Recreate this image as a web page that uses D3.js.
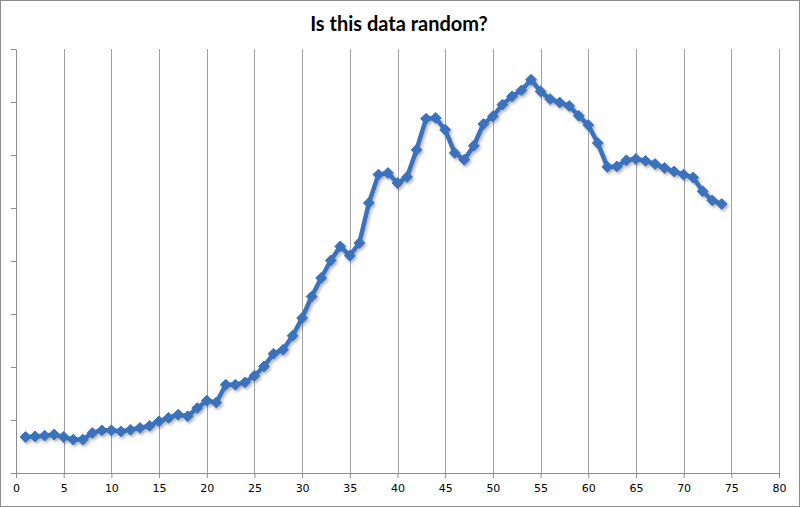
<!DOCTYPE html>
<html>
<head>
<meta charset="utf-8">
<script src="https://cdn.jsdelivr.net/npm/d3@7"></script>
<style>
  html, body { margin: 0; padding: 0; background: #fff; }
  svg { display: block; }
</style>
</head>
<body>
<svg id="chart"></svg>
<script>
var title = "Is this data random?";
var xValues = d3.range(1, 75);
var yValues = [
  13.6, 13.8, 14.1, 14.5, 13.6, 12.6, 12.6, 15.1, 16.1, 16.1,
  15.7, 16.3, 17.0, 17.8, 19.5, 20.8, 22.0, 21.4, 24.5, 27.3,
  26.6, 33.3, 33.3, 34.2, 36.7, 40.2, 45.0, 46.5, 51.8, 58.5,
  66.6, 73.6, 80.2, 85.5, 82.0, 86.8, 101.9, 112.6, 113.2, 109.4,
  111.7, 122.0, 133.7, 134.0, 129.5, 120.8, 118.2, 123.5, 131.7, 134.6,
  139.0, 142.1, 144.4, 148.4, 144.0, 141.1, 139.8, 138.5, 134.8, 131.3,
  124.5, 115.5, 115.7, 118.0, 118.5, 117.8, 116.6, 115.1, 113.8, 112.6,
  111.5, 106.3, 102.9, 101.5
];
var xTicks = d3.range(0, 81, 5);
var yTicks = d3.range(0, 161, 20);

var W = 800, H = 507;
var margin = { top: 49, right: 21, bottom: 34, left: 16 },
    width = W - margin.left - margin.right,
    height = H - margin.top - margin.bottom;

var svg = d3.select("#chart").attr("width", W).attr("height", H);

svg.append("rect")
    .attr("x", 0.5).attr("y", 0.5)
    .attr("width", W - 1).attr("height", H - 1)
    .attr("fill", "#fff")
    .attr("stroke", "#8c8c8c");

var defs = svg.append("defs");
var shadow = defs.append("filter").attr("id", "shadow")
    .attr("x", "-20%").attr("y", "-20%").attr("width", "140%").attr("height", "140%");
shadow.append("feDropShadow")
    .attr("dx", 1.5).attr("dy", 2)
    .attr("stdDeviation", 1.5)
    .attr("flood-color", "#000")
    .attr("flood-opacity", 0.3);

svg.append("text")
    .attr("x", W / 2 - 1)
    .attr("y", 31)
    .attr("text-anchor", "middle")
    .style("font-family", "Lato, 'Open Sans', sans-serif")
    .style("font-weight", "bold")
    .style("font-size", "20px")
    .attr("fill", "#000")
    .text(title);

var chart = svg.append("g")
    .attr("transform", "translate(" + margin.left + "," + margin.top + ")");

var x = d3.scaleLinear().domain([0, 80]).range([0, width]);
var y = d3.scaleLinear().domain([0, 160]).range([height, 0]);

// vertical gridlines
chart.append("g")
    .selectAll("line")
    .data(xTicks.filter(function(d) { return d > 0; }))
    .enter().append("line")
    .attr("x1", function(d) { return Math.round(x(d)) + 0.5; })
    .attr("x2", function(d) { return Math.round(x(d)) + 0.5; })
    .attr("y1", 0)
    .attr("y2", height)
    .attr("stroke", "#a0a0a0")
    .attr("stroke-width", 1);

var xAxis = d3.axisBottom(x).tickValues(xTicks).tickSizeInner(5).tickSizeOuter(0).tickPadding(6);
var gx = chart.append("g")
    .attr("transform", "translate(0," + height + ")")
    .call(xAxis);

var yAxis = d3.axisLeft(y).tickValues(yTicks).tickSizeInner(5).tickSizeOuter(0).tickFormat("");
var gy = chart.append("g").call(yAxis);

[gx, gy].forEach(function(g) {
    g.select(".domain").attr("stroke", "#8c8c8c");
    g.selectAll(".tick line").attr("stroke", "#8c8c8c");
    g.selectAll("text")
        .style("font-family", "'DejaVu Sans', Verdana, sans-serif")
        .style("font-size", "11px")
        .attr("fill", "#000");
});

var points = xValues.map(function(d, i) { return [d, yValues[i]]; });

var series = chart.append("g").attr("filter", "url(#shadow)");

var line = d3.line()
    .x(function(d) { return x(d[0]); })
    .y(function(d) { return y(d[1]); });

series.append("path")
    .datum(points)
    .attr("d", line)
    .attr("fill", "none")
    .attr("stroke", "#3a72bb")
    .attr("stroke-width", 4.5)
    .attr("stroke-linejoin", "round");

series.selectAll("path.marker")
    .data(points)
    .enter().append("path")
    .attr("class", "marker")
    .attr("d", d3.symbol().type(d3.symbolDiamond2).size(75))
    .attr("transform", function(d) {
        return "translate(" + x(d[0]) + "," + y(d[1]) + ")";
    })
    .attr("fill", "#3a72bb")
    .attr("stroke", "#3a72bb")
    .attr("stroke-width", 1);
</script>
</body>
</html>
